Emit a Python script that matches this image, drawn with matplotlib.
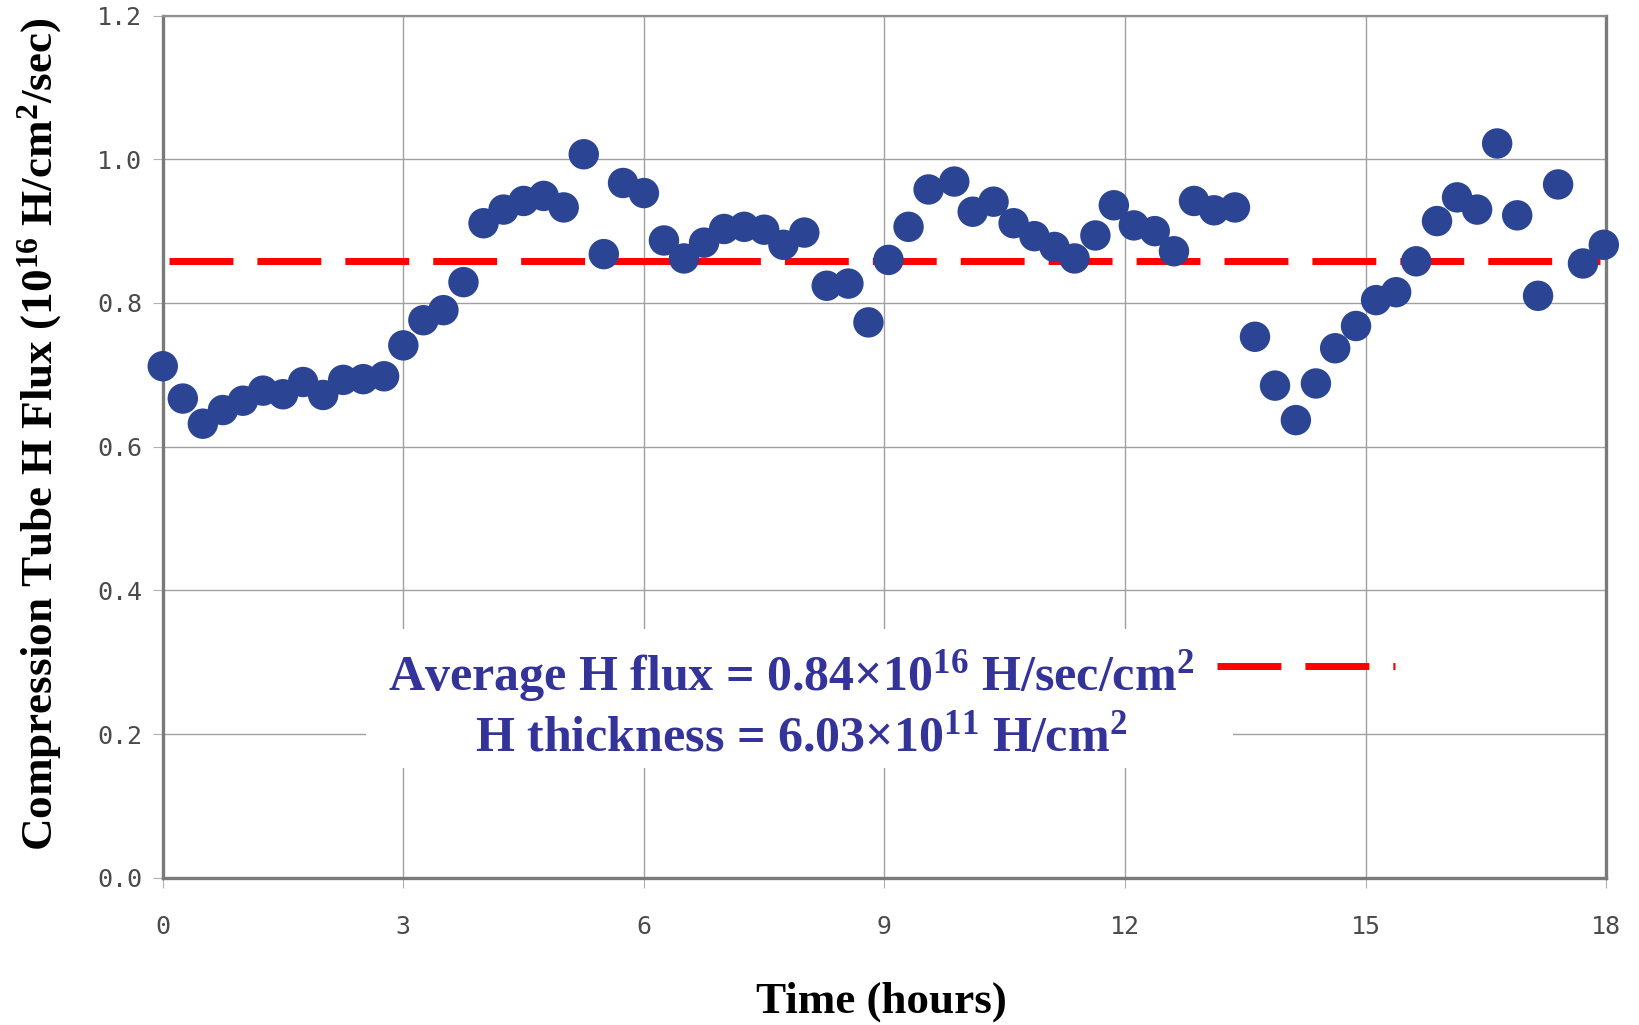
import numpy as np
import matplotlib
matplotlib.use("Agg")
import matplotlib.pyplot as plt
from matplotlib.patches import Rectangle

hours = [0.00, 0.25, 0.50, 0.75, 1.00, 1.25, 1.50, 1.75, 2.00, 2.25, 2.50, 2.76,
         3.00, 3.25, 3.50, 3.75, 4.00, 4.25, 4.50, 4.75, 5.00, 5.25, 5.50, 5.74,
         6.00, 6.25, 6.50, 6.75, 7.00, 7.25, 7.50, 7.74, 8.00, 8.28, 8.55, 8.80,
         9.05, 9.30, 9.55, 9.87, 10.10, 10.36, 10.61, 10.87, 11.12, 11.37, 11.63, 11.86,
         12.11, 12.37, 12.61, 12.86, 13.11, 13.37, 13.62, 13.87, 14.13, 14.38, 14.62, 14.88,
         15.13, 15.38, 15.63, 15.89, 16.14, 16.39, 16.64, 16.89, 17.15, 17.40, 17.71, 17.97]
flux = [0.712, 0.667, 0.632, 0.651, 0.664, 0.678, 0.673, 0.690, 0.672, 0.693, 0.694, 0.698,
        0.741, 0.776, 0.790, 0.829, 0.911, 0.930, 0.942, 0.949, 0.933, 1.007, 0.868, 0.967,
        0.953, 0.887, 0.862, 0.884, 0.903, 0.906, 0.902, 0.881, 0.898, 0.824, 0.827, 0.773,
        0.860, 0.906, 0.958, 0.969, 0.927, 0.941, 0.911, 0.893, 0.878, 0.862, 0.894, 0.936,
        0.908, 0.900, 0.872, 0.942, 0.929, 0.933, 0.753, 0.685, 0.637, 0.688, 0.737, 0.768,
        0.804, 0.815, 0.858, 0.914, 0.947, 0.930, 1.022, 0.922, 0.810, 0.965, 0.855, 0.881]
avg_level = 0.858
avg_span = [0.08, 17.92]

x_ticks = [0, 3, 6, 9, 12, 15, 18]
y_ticks = [0.0, 0.2, 0.4, 0.6, 0.8, 1.0, 1.2]

plt.rcParams['mathtext.fontset'] = 'custom'
plt.rcParams['mathtext.rm'] = 'Liberation Serif:bold'
plt.rcParams['mathtext.bf'] = 'Liberation Serif:bold'
plt.rcParams['mathtext.default'] = 'rm'

dot_col = '#2b4594'
txt_col = '#333399'
grey = '#7a7a7a'
lw_avg = 5.0
dash = (46.0 / lw_avg, 17.3 / lw_avg)

fig = plt.figure(figsize=(16.39, 10.25), dpi=100, facecolor='w')
ax = fig.add_axes([0.0993, 0.1436, 0.8807, 0.8412])

ax.set_xlim(0, 18)
ax.set_ylim(0, 1.2)
ax.set_xticks(x_ticks)
ax.set_yticks(y_ticks)
ax.set_xticklabels([str(t) for t in x_ticks], family='DejaVu Sans Mono')
ax.set_yticklabels(['%.1f' % v for v in y_ticks], family='DejaVu Sans Mono')
ax.grid(True, color='#a0a0a0', linewidth=1.0, zorder=0)
ax.set_axisbelow(True)

for side in ['left', 'bottom', 'right']:
    ax.spines[side].set_color(grey)
    ax.spines[side].set_linewidth(2.4)
ax.spines['top'].set_color('#909090')
ax.spines['top'].set_linewidth(1.6)

ax.tick_params(axis='x', direction='out', length=7, width=0.8, colors='#b0b0b0',
               pad=20, labelsize=18, labelcolor='#4a4a4a')
ax.tick_params(axis='y', direction='out', length=7, width=0.8, colors='#b0b0b0',
               pad=8, labelsize=18, labelcolor='#4a4a4a')

ax.plot(avg_span, [avg_level, avg_level], color='red', linewidth=lw_avg,
        dashes=dash, solid_capstyle='butt', dash_capstyle='butt', zorder=2)
ax.scatter(hours, flux, s=480, color=dot_col, edgecolors='none', zorder=3,
           clip_on=False)

# white box behind the annotation
ax.add_patch(Rectangle((2.53, 0.153), 13.34 - 2.53, 0.346 - 0.153,
                       facecolor='white', edgecolor='none', zorder=1.5))
ax.plot([13.15, 15.36], [0.295, 0.295], color='red', linewidth=lw_avg,
        dashes=dash, dash_capstyle='butt', zorder=2)

ax.text(7.83, 0.261, 'Average H flux = 0.84×10$^{16}$ H/sec/cm$^{2}$',
        ha='center', va='baseline', color=txt_col, fontsize=36,
        family='Liberation Serif', fontweight='bold', zorder=4)
ax.text(7.96, 0.177, 'H thickness = 6.03×10$^{11}$ H/cm$^{2}$',
        ha='center', va='baseline', color=txt_col, fontsize=36,
        family='Liberation Serif', fontweight='bold', zorder=4)

fig.text(0.024, 0.576, 'Compression Tube H Flux (10$^{16}$ H/cm$^{2}$/sec)',
         rotation=90, ha='center', va='center', fontsize=32.5,
         family='Liberation Serif', fontweight='bold', color='black')
fig.text(0.5375, 0.023, 'Time (hours)', ha='center', va='center', fontsize=32.5,
         family='Liberation Serif', fontweight='bold', color='black')

fig.savefig('out.png', dpi=100, facecolor='w')
